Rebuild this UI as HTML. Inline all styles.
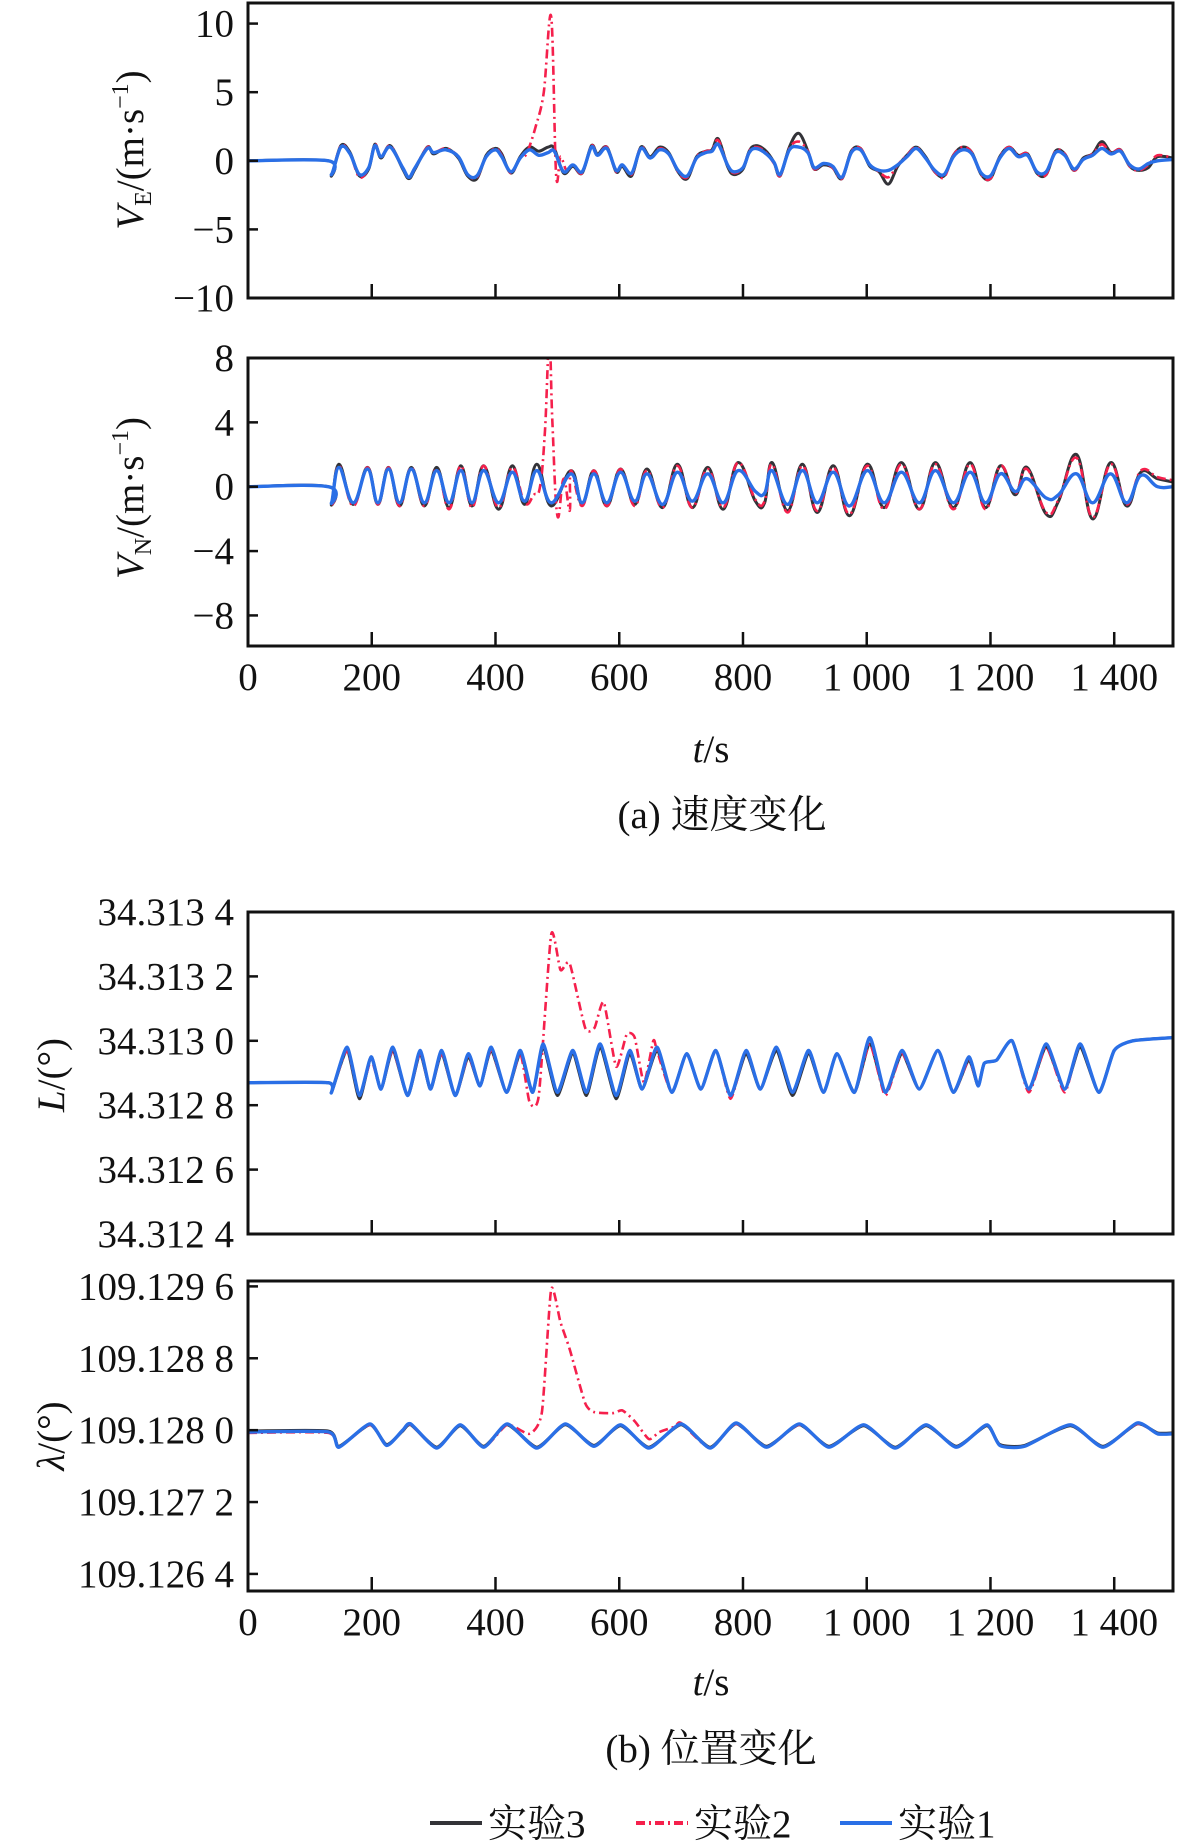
<!DOCTYPE html>
<html><head><meta charset="utf-8"><style>
html,body{margin:0;padding:0;background:#fff;}
svg{display:block;}
text{font-family:"Liberation Serif","Noto Serif CJK SC","Noto Sans CJK SC",serif;fill:#111;}
</style></head><body>
<svg id="chart" width="1181" height="1843" viewBox="0 0 1181 1843" xmlns="http://www.w3.org/2000/svg"></svg>
<script>
// ---------- shared x axis ----------
const xTicks = [0,200,400,600,800,1000,1200,1400];
const xTickLabels = ["0","200","400","600","800","1 000","1 200","1 400"];
const xMax = 1495;

// ---------- VE (plot 1) ----------
const veT = [0,130,135,150,165,180,195,205,215,230,250,260,270,290,300,320,340,355,370,385,400,410,425,440,455,470,485,495,510,525,540,555,565,580,595,605,620,635,650,665,680,695,710,725,740,750,760,775,785,800,810,820,835,850,860,875,890,905,915,930,945,960,975,990,1005,1020,1035,1050,1065,1080,1095,1110,1125,1140,1155,1170,1185,1200,1215,1230,1245,1260,1275,1290,1305,1320,1335,1350,1365,1380,1395,1410,1425,1440,1455,1470,1495];
const veBlue = [0,0,-1,1,0.5,-1,-0.5,1.1,0.3,1,-0.5,-1.2,-0.5,0.9,0.6,0.8,0.3,-1,-1.1,0.3,0.8,0.3,-0.8,0.2,0.8,0.4,0.6,0.7,-0.8,-0.3,-0.8,1,0.4,0.9,-0.7,-0.3,-0.9,0.9,0.2,0.8,0.5,-0.7,-1.1,0.2,0.6,0.7,1.2,-0.3,-0.8,-0.5,0.6,0.9,0.6,-0.1,-1.0,0.8,1.0,0.6,-0.5,-0.2,-0.4,-1.2,0.6,0.8,-0.3,-0.7,-0.7,-0.3,0.3,0.9,0.2,-0.7,-1.0,0.3,0.8,0.5,-0.9,-1.1,0.2,0.9,0.3,0.4,-0.8,-0.8,0.6,0.4,-0.6,0.1,0.4,0.9,0.5,0.7,-0.3,-0.6,-0.2,0,0.1];
const veBlack = [0,0,-1.1,1.1,0.6,-1.1,-0.6,1.2,0.2,1.1,-0.6,-1.3,-0.6,1.0,0.5,0.9,0.2,-1.1,-1.3,0.4,0.9,0.5,-0.9,0.3,1.0,0.7,1.0,0.9,-0.9,-0.4,-0.9,1.1,0.5,1.0,-0.8,-0.4,-1.1,1.0,0.3,1.0,0.6,-0.8,-1.3,0.3,0.7,0.8,1.6,-0.4,-1.0,-0.6,0.7,1.1,0.8,-0.1,-1.1,1.0,2.0,0.7,-0.6,-0.3,-0.5,-1.3,0.7,0.9,-0.4,-0.8,-1.7,-0.4,0.4,1.0,0.3,-0.8,-1.1,0.4,1.0,0.6,-1.0,-1.3,0.3,1.0,0.4,0.5,-0.9,-1.0,0.7,0.5,-0.7,0.2,0.5,1.4,0.6,0.8,-0.4,-0.7,-0.5,0.3,0.2];
const veRed = [0,0,-1.0,1.1,0.5,-1.2,-0.5,1.2,0.3,1.1,-0.5,-1.2,-0.5,1.0,0.6,0.9,0.3,-1.0,-1.2,0.3,0.9,0.4,-0.9,0.2,0.9,0.5,0.7,0.8,-0.9,-0.3,-0.9,1.1,0.4,1.0,-0.8,-0.3,-1.0,1.0,0.2,0.9,0.5,-0.8,-1.2,0.3,0.7,0.8,1.5,-0.3,-0.9,-0.5,0.7,1.0,0.7,-0.2,-1.1,0.9,1.4,0.7,-0.6,-0.2,-0.5,-1.3,0.7,0.9,-0.3,-0.8,-1.2,-0.3,0.4,1.0,0.2,-0.8,-1.2,0.4,1.0,0.6,-1.0,-1.3,0.3,1.0,0.4,0.5,-0.9,-1.0,0.7,0.5,-0.7,0.1,0.5,1.2,0.6,0.8,-0.4,-0.7,-0.3,0.4,0.2];
const veSpikeT = [450,465,478,490,498,505,515];
const veSpikeV = [0.5,2.5,5.0,10.5,-1.0,0.3,-0.7];
const veYTicks = [10,5,0,-5,-10];
const veYTickLabels = ["10","5","0","\u22125","\u221210"];

// ---------- VN (plot 2) ----------
const vnT = [0,130,135,147,170,193,210,227,245,264,285,305,325,344,362,381,405,427,447,467,490,522,540,559,580,602,625,645,670,694,718,743,768,792,820,835,847,872,896,920,946,972,1001,1028,1056,1085,1111,1140,1167,1192,1216,1240,1259,1290,1310,1339,1365,1394,1420,1443,1470,1495];
const vnBlue = [0,0,-1.0,1.2,-1.0,1.1,-1.0,1.1,-1.0,1.1,-1.0,1.0,-1.0,1.0,-1.0,1.0,-1.0,0.9,-0.9,1.0,-1.0,0.8,-1.0,0.8,-1.0,0.9,-0.9,0.8,-1.1,0.9,-0.9,0.8,-1.0,1.0,-0.3,-0.4,1.0,-1.1,1.0,-1.0,0.9,-1.2,1.0,-1.0,0.9,-1.0,1.0,-1.0,0.9,-1.0,0.8,-0.3,0.5,-0.7,-0.5,0.8,-1.0,0.8,-1.0,0.7,0.0,0.0];
const vnBlack = [0,0,-1.1,1.4,-1.1,1.2,-1.1,1.2,-1.2,1.2,-1.2,1.2,-1.3,1.3,-1.2,1.3,-1.4,1.3,-1.1,1.4,-1.2,1.0,-1.1,1.0,-1.2,1.1,-1.1,1.1,-1.3,1.4,-1.3,1.2,-1.4,1.5,-0.9,-1.0,1.5,-1.5,1.4,-1.6,1.3,-1.8,1.4,-1.3,1.5,-1.4,1.5,-1.3,1.5,-1.3,1.3,-0.5,1.2,-1.7,-0.9,2.0,-2.0,1.5,-1.2,0.9,0.5,0.3];
const vnRed = [0,0,-1.1,1.3,-1.2,1.2,-1.1,1.2,-1.2,1.2,-1.2,1.1,-1.4,1.3,-1.3,1.3,-1.3,1.2,-1.0,1.3,-1.2,1.0,-1.2,1.0,-1.2,1.1,-1.2,1.0,-1.3,1.3,-1.3,1.1,-1.3,1.5,-0.8,-0.9,1.4,-1.6,1.3,-1.5,1.2,-1.7,1.3,-1.4,1.4,-1.4,1.4,-1.4,1.4,-1.4,1.3,-0.4,1.1,-1.6,-0.8,1.8,-1.9,1.4,-1.1,1.0,0.6,0.4];
const vnSpikeT = [462,472,480,487,492,500,510,520];
const vnSpikeV = [-0.5,0.0,3.5,9.0,4.0,-1.8,0.5,-1.5];
const vnYTicks = [8,4,0,-4,-8];
const vnYTickLabels = ["8","4","0","\u22124","\u22128"];

// ---------- L (plot 3) ----------
const lT = [0,130,135,160,180,199,215,234,258,278,295,313,335,356,375,393,418,440,460,477,500,525,547,569,595,617,637,661,685,709,732,756,780,805,828,854,880,906,930,952,980,1005,1030,1057,1085,1115,1140,1165,1180,1190,1210,1235,1262,1290,1320,1345,1375,1400,1430,1495];
const lBlue = [34.31287,34.31287,34.31284,34.31298,34.31283,34.31295,34.31285,34.31298,34.31283,34.31297,34.31285,34.31297,34.31283,34.31296,34.31286,34.31298,34.31284,34.31297,34.31284,34.31299,34.31284,34.31297,34.31284,34.31299,34.31283,34.31297,34.31285,34.31298,34.31284,34.31296,34.31285,34.31297,34.31283,34.31297,34.31285,34.31298,34.31284,34.31297,34.31284,34.31296,34.31284,34.31301,34.31284,34.31297,34.31285,34.31297,34.31284,34.31295,34.31286,34.31293,34.31294,34.31300,34.31285,34.31299,34.31285,34.31299,34.31284,34.31297,34.31300,34.31301];
const lBlack = [34.31287,34.31287,34.31284,34.31297,34.31282,34.31295,34.31285,34.31297,34.31283,34.31296,34.31285,34.31296,34.31283,34.31295,34.31286,34.31297,34.31284,34.31296,34.31284,34.31298,34.31283,34.31296,34.31283,34.31298,34.31282,34.31296,34.31285,34.31297,34.31284,34.31296,34.31285,34.31297,34.31283,34.31296,34.31285,34.31297,34.31283,34.31296,34.31284,34.31296,34.31284,34.31299,34.31284,34.31296,34.31285,34.31297,34.31284,34.31294,34.31286,34.31293,34.31294,34.31300,34.31285,34.31298,34.31285,34.31298,34.31284,34.31297,34.31300,34.31301];
const lRed = [34.31287,34.31287,34.31284,34.31297,34.31283,34.31294,34.31285,34.31297,34.31283,34.31296,34.31285,34.31296,34.31283,34.31295,34.31286,34.31297,34.31284,34.31296,34.31284,34.31298,34.31284,34.31296,34.31284,34.31298,34.31283,34.31296,34.31285,34.31297,34.31284,34.31296,34.31285,34.31297,34.31282,34.31297,34.31285,34.31298,34.31284,34.31297,34.31284,34.31296,34.31284,34.31299,34.31283,34.31296,34.31285,34.31297,34.31284,34.31294,34.31286,34.31293,34.31294,34.31300,34.31284,34.31298,34.31284,34.31299,34.31284,34.31297,34.31300,34.31301];
const lSpikeT = [455,470,490,505,520,545,560,575,595,612,625,640,655];
const lSpikeV = [34.31281,34.31283,34.31333,34.31322,34.31324,34.31304,34.31304,34.31312,34.31292,34.31302,34.31301,34.31287,34.31300];
const lYTicks = [34.3134,34.3132,34.3130,34.3128,34.3126,34.3124];
const lYTickLabels = ["34.313 4","34.313 2","34.313 0","34.312 8","34.312 6","34.312 4"];

// ---------- lambda (plot 4) ----------
const gT = [0,130,147,197,224,250,263,305,343,381,419,467,513,559,602,648,700,747,789,838,891,939,995,1046,1096,1145,1194,1215,1255,1329,1382,1437,1470,1495];
const gBlue = [109.12798,109.12798,109.12781,109.12807,109.12783,109.12800,109.12807,109.12780,109.12806,109.12781,109.12807,109.12780,109.12807,109.12782,109.12806,109.12780,109.12807,109.12780,109.12808,109.12781,109.12807,109.12781,109.12806,109.12780,109.12806,109.12781,109.12806,109.12783,109.12782,109.12806,109.12781,109.12808,109.12796,109.12796];
const gBlack = [109.12799,109.12799,109.12782,109.12806,109.12784,109.12799,109.12806,109.12781,109.12805,109.12782,109.12806,109.12781,109.12806,109.12783,109.12805,109.12781,109.12806,109.12781,109.12807,109.12782,109.12806,109.12782,109.12805,109.12781,109.12805,109.12782,109.12805,109.12784,109.12783,109.12805,109.12782,109.12807,109.12797,109.12797];
const gRed = [109.12797,109.12797,109.12781,109.12806,109.12783,109.12800,109.12806,109.12780,109.12806,109.12781,109.12806,109.12780,109.12806,109.12782,109.12806,109.12780,109.12806,109.12780,109.12807,109.12781,109.12806,109.12781,109.12806,109.12780,109.12806,109.12781,109.12806,109.12783,109.12782,109.12806,109.12781,109.12807,109.12796,109.12796];
const gSpikeT = [455,475,490,505,520,545,560,590,605,625,648,665,690,700];
const gSpikeV = [109.12796,109.12820,109.12957,109.12920,109.12890,109.12830,109.12820,109.12819,109.12822,109.12810,109.12790,109.12798,109.12804,109.12808];
const gYTicks = [109.1296,109.1288,109.1280,109.1272,109.1264];
const gYTickLabels = ["109.129 6","109.128 8","109.128 0","109.127 2","109.126 4"];

// ---------- drawing ----------
const NS = "http://www.w3.org/2000/svg";
const svg = document.getElementById('chart');
const X0 = 248, X1 = 1173;
const xScale = t => X0 + (t / xMax) * (X1 - X0);
const FS = 39;

function mk(tag, attrs, parent) {
  const e = document.createElementNS(NS, tag);
  for (const k in attrs) e.setAttribute(k, attrs[k]);
  (parent || svg).appendChild(e);
  return e;
}
function merge(T, V, ST, SV) {
  const pts = [];
  for (let i = 0; i < T.length; i++) if (!ST || T[i] < ST[0] || T[i] > ST[ST.length - 1]) pts.push([T[i], V[i]]);
  if (ST) for (let i = 0; i < ST.length; i++) pts.push([ST[i], SV[i]]);
  pts.sort((a, b) => a[0] - b[0]);
  return pts;
}
// smooth path (Catmull-Rom -> cubic bezier), with tension
function smoothPath(P, k) {
  let d = 'M' + P[0][0].toFixed(1) + ' ' + P[0][1].toFixed(1);
  for (let i = 0; i < P.length - 1; i++) {
    const p0 = P[i - 1] || P[i], p1 = P[i], p2 = P[i + 1], p3 = P[i + 2] || p2;
    const c1x = p1[0] + (p2[0] - p0[0]) * k, c1y = p1[1] + (p2[1] - p0[1]) * k;
    const c2x = p2[0] - (p3[0] - p1[0]) * k, c2y = p2[1] - (p3[1] - p1[1]) * k;
    d += ' C' + c1x.toFixed(1) + ' ' + c1y.toFixed(1) + ' ' + c2x.toFixed(1) + ' ' + c2y.toFixed(1) + ' ' + p2[0].toFixed(1) + ' ' + p2[1].toFixed(1);
  }
  return d;
}

function panel(id, top, bottom, yTop, yBot, yTicks, yTickLabels, T, blk, red, blu, ST, SV, showXLabels, tension) {
  const yScale = v => top + (yTop - v) / (yTop - yBot) * (bottom - top);
  const g = mk('g', {});
  
  
  const cp = mk('clipPath', { id: id + '-clip' }, g);
  mk('rect', { x: X0, y: top, width: X1 - X0, height: bottom - top }, cp);
  const lines = mk('g', { 'clip-path': 'url(#' + id + '-clip)' }, g);
  
  
  const series = [
    ['exp3', merge(T, blk), '#333338', 3, null],
    ['exp2', merge(T, red, ST, SV), '#f5204c', 2.6, '9,4,2,4'],
    ['exp1', merge(T, blu), '#2a6fe6', 3.4, null]
  ];
  series.forEach(s => {
    const P = s[1].map(p => [xScale(p[0]), yScale(p[1])]);
    const p = mk('path', { d: smoothPath(P, tension), fill: 'none', stroke: s[2], 'stroke-width': s[3], 'stroke-linejoin': 'round' }, lines);
    if (s[4]) p.setAttribute('stroke-dasharray', s[4]);
    
    
  });
  const fr = mk('rect', { x: X0, y: top, width: X1 - X0, height: bottom - top, fill: 'none', stroke: '#111', 'stroke-width': 3 }, g);
  
  
  xTicks.forEach((t, i) => {
    if (t > 0) mk('line', { x1: xScale(t), x2: xScale(t), y1: bottom, y2: bottom - 14, stroke: '#111', 'stroke-width': 2.5 }, g);
    if (showXLabels) {
      const tx = mk('text', { x: xScale(t), y: bottom + 44, 'text-anchor': 'middle', 'font-size': FS }, g);
      tx.textContent = xTickLabels[i];
      
      
    }
  });
  yTicks.forEach((v, i) => {
    const y = yScale(v);
    mk('line', { x1: X0, x2: X0 + 10, y1: y, y2: y, stroke: '#111', 'stroke-width': 2.5 }, g);
    const tx = mk('text', { x: 234, y: y + 13, 'text-anchor': 'end', 'font-size': FS }, g);
    tx.textContent = yTickLabels[i];
    
    
  });
}

panel('ve', 3, 298, 11.5, -10, veYTicks, veYTickLabels, veT, veBlack, veRed, veBlue, veSpikeT, veSpikeV, false, 0.17);
panel('vn', 358, 646, 8, -9.9, vnYTicks, vnYTickLabels, vnT, vnBlack, vnRed, vnBlue, vnSpikeT, vnSpikeV, true, 0.2);
panel('lat', 912, 1234, 34.3134, 34.3124, lYTicks, lYTickLabels, lT, lBlack, lRed, lBlue, lSpikeT, lSpikeV, false, 0.1);
panel('lon', 1281, 1591, 109.12966, 109.12621, gYTicks, gYTickLabels, gT, gBlack, gRed, gBlue, gSpikeT, gSpikeV, true, 0.1);

// ---------- static labels ----------
function label(name, x, y, html, size, rot) {
  const t = mk('text', { x: x, y: y, 'text-anchor': 'middle', 'font-size': size });
  if (rot) t.setAttribute('transform', 'rotate(-90 ' + x + ' ' + y + ')');
  t.innerHTML = html;
  
  
}
label('ve-y-axis-title', 143, 150, '<tspan font-style="italic">V</tspan><tspan font-size="24" dy="8">E</tspan><tspan dy="-8">/(m·s</tspan><tspan font-size="24" dy="-15">−1</tspan><tspan dy="15">)</tspan>', FS, true);
label('vn-y-axis-title', 143, 498, '<tspan font-style="italic">V</tspan><tspan font-size="24" dy="8">N</tspan><tspan dy="-8">/(m·s</tspan><tspan font-size="24" dy="-15">−1</tspan><tspan dy="15">)</tspan>', FS, true);
label('lat-y-axis-title', 64, 1075, '<tspan font-style="italic">L</tspan>/(°)', FS, true);
label('lon-y-axis-title', 64, 1436, '<tspan font-style="italic">λ</tspan>/(°)', FS, true);
label('x-axis-title-a', 711, 762, '<tspan font-style="italic">t</tspan>/s', FS);
label('caption-a', 722, 828, '(a) 速度变化', FS);
label('x-axis-title-b', 711, 1695, '<tspan font-style="italic">t</tspan>/s', FS);
label('caption-b', 711, 1762, '(b) 位置变化', FS);

// legend
const lg = mk('g', {});


const legNames = ['实验3', '实验2', '实验1'];
const legCols = ['#333338', '#f5204c', '#2a6fe6'];
const legX = [430, 636, 840];
legNames.forEach((n, i) => {
  const ln = mk('line', { x1: legX[i], x2: legX[i] + 52, y1: 1823, y2: 1823, stroke: legCols[i], 'stroke-width': 4 }, lg);
  if (i === 1) ln.setAttribute('stroke-dasharray', '9,4,2,4');
  
  
  const tx = mk('text', { x: legX[i] + 58, y: 1837, 'font-size': FS }, lg);
  tx.textContent = n;
  
  
});
</script>
</body></html>
